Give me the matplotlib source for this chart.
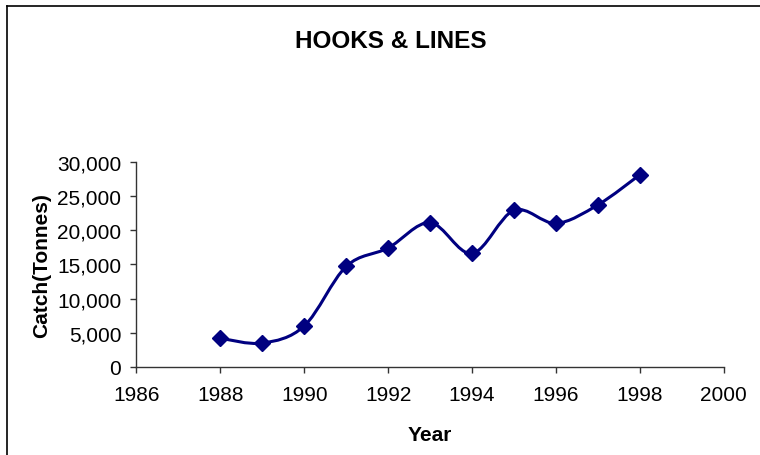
import matplotlib
matplotlib.use("Agg")
import matplotlib.pyplot as plt
from matplotlib.path import Path
from matplotlib.patches import PathPatch
from matplotlib.lines import Line2D
from matplotlib.ticker import FuncFormatter

# Hooks & lines catch per year
years = [1988, 1989, 1990, 1991, 1992, 1993, 1994, 1995, 1996, 1997, 1998]
catch = [4200, 3500, 6000, 14700, 17400, 21100, 16600, 22900, 21000, 23700, 28100]

x_ticks = [1986, 1988, 1990, 1992, 1994, 1996, 1998, 2000]
y_ticks = [0, 5000, 10000, 15000, 20000, 25000, 30000]

NAVY = "#000080"
AXIS = "#333333"


def smooth_path(xs, ys):
    # Catmull-Rom style bezier, like a spreadsheet "smoothed line"
    pts = list(zip(xs, ys))
    verts = [pts[0]]
    codes = [Path.MOVETO]
    n = len(pts)
    for i in range(n - 1):
        p0 = pts[i - 1] if i > 0 else pts[i]
        p1 = pts[i]
        p2 = pts[i + 1]
        p3 = pts[i + 2] if i + 2 < n else pts[i + 1]
        c1 = (p1[0] + (p2[0] - p0[0]) / 6, p1[1] + (p2[1] - p0[1]) / 6)
        c2 = (p2[0] - (p3[0] - p1[0]) / 6, p2[1] - (p3[1] - p1[1]) / 6)
        verts += [c1, c2, p2]
        codes += [Path.CURVE4] * 3
    return Path(verts, codes)


def main():
    plt.rcParams["font.family"] = ["Liberation Sans", "DejaVu Sans"]

    fig = plt.figure(figsize=(7.6, 4.56), dpi=100)
    ax = fig.add_axes([0.1796, 0.193, 0.7726, 0.450])

    ax.add_patch(PathPatch(smooth_path(years, catch), facecolor="none",
                           edgecolor=NAVY, linewidth=2.2, zorder=2))
    ax.plot(years, catch, linestyle="none", marker="D", markersize=8,
            color=NAVY, zorder=3, clip_on=False)

    ax.set_xlim(1986, 2000)
    ax.set_ylim(0, 30000)
    ax.set_xticks(x_ticks)
    ax.set_yticks(y_ticks)
    ax.yaxis.set_major_formatter(FuncFormatter(lambda v, p: f"{int(v):,}"))

    for side in ("top", "right"):
        ax.spines[side].set_visible(False)
    for side in ("left", "bottom"):
        ax.spines[side].set_color(AXIS)
        ax.spines[side].set_linewidth(1.0)
    ax.tick_params(axis="both", direction="out", length=4, width=1.0,
                   color=AXIS, labelsize=15, labelcolor="black")
    ax.tick_params(axis="x", pad=9)
    ax.tick_params(axis="y", pad=7)

    ax.set_xlabel("Year", fontsize=15, fontweight="bold", labelpad=15)
    ax.set_ylabel("Catch(Tonnes)", fontsize=15, fontweight="bold", labelpad=4)

    fig.text(0.514, 1 - 42 / 456, "HOOKS & LINES", ha="center", va="center",
             fontsize=17.5, fontweight="bold")

    # outer chart frame
    fx = 7 / 760
    fy = 1 - 7 / 456
    fig.add_artist(Line2D([fx, fx], [-0.05, fy], color="black", linewidth=1.2))
    fig.add_artist(Line2D([fx, 1.05], [fy, fy], color="black", linewidth=1.2))

    fig.savefig("out.png", dpi=100)


if __name__ == "__main__":
    main()
